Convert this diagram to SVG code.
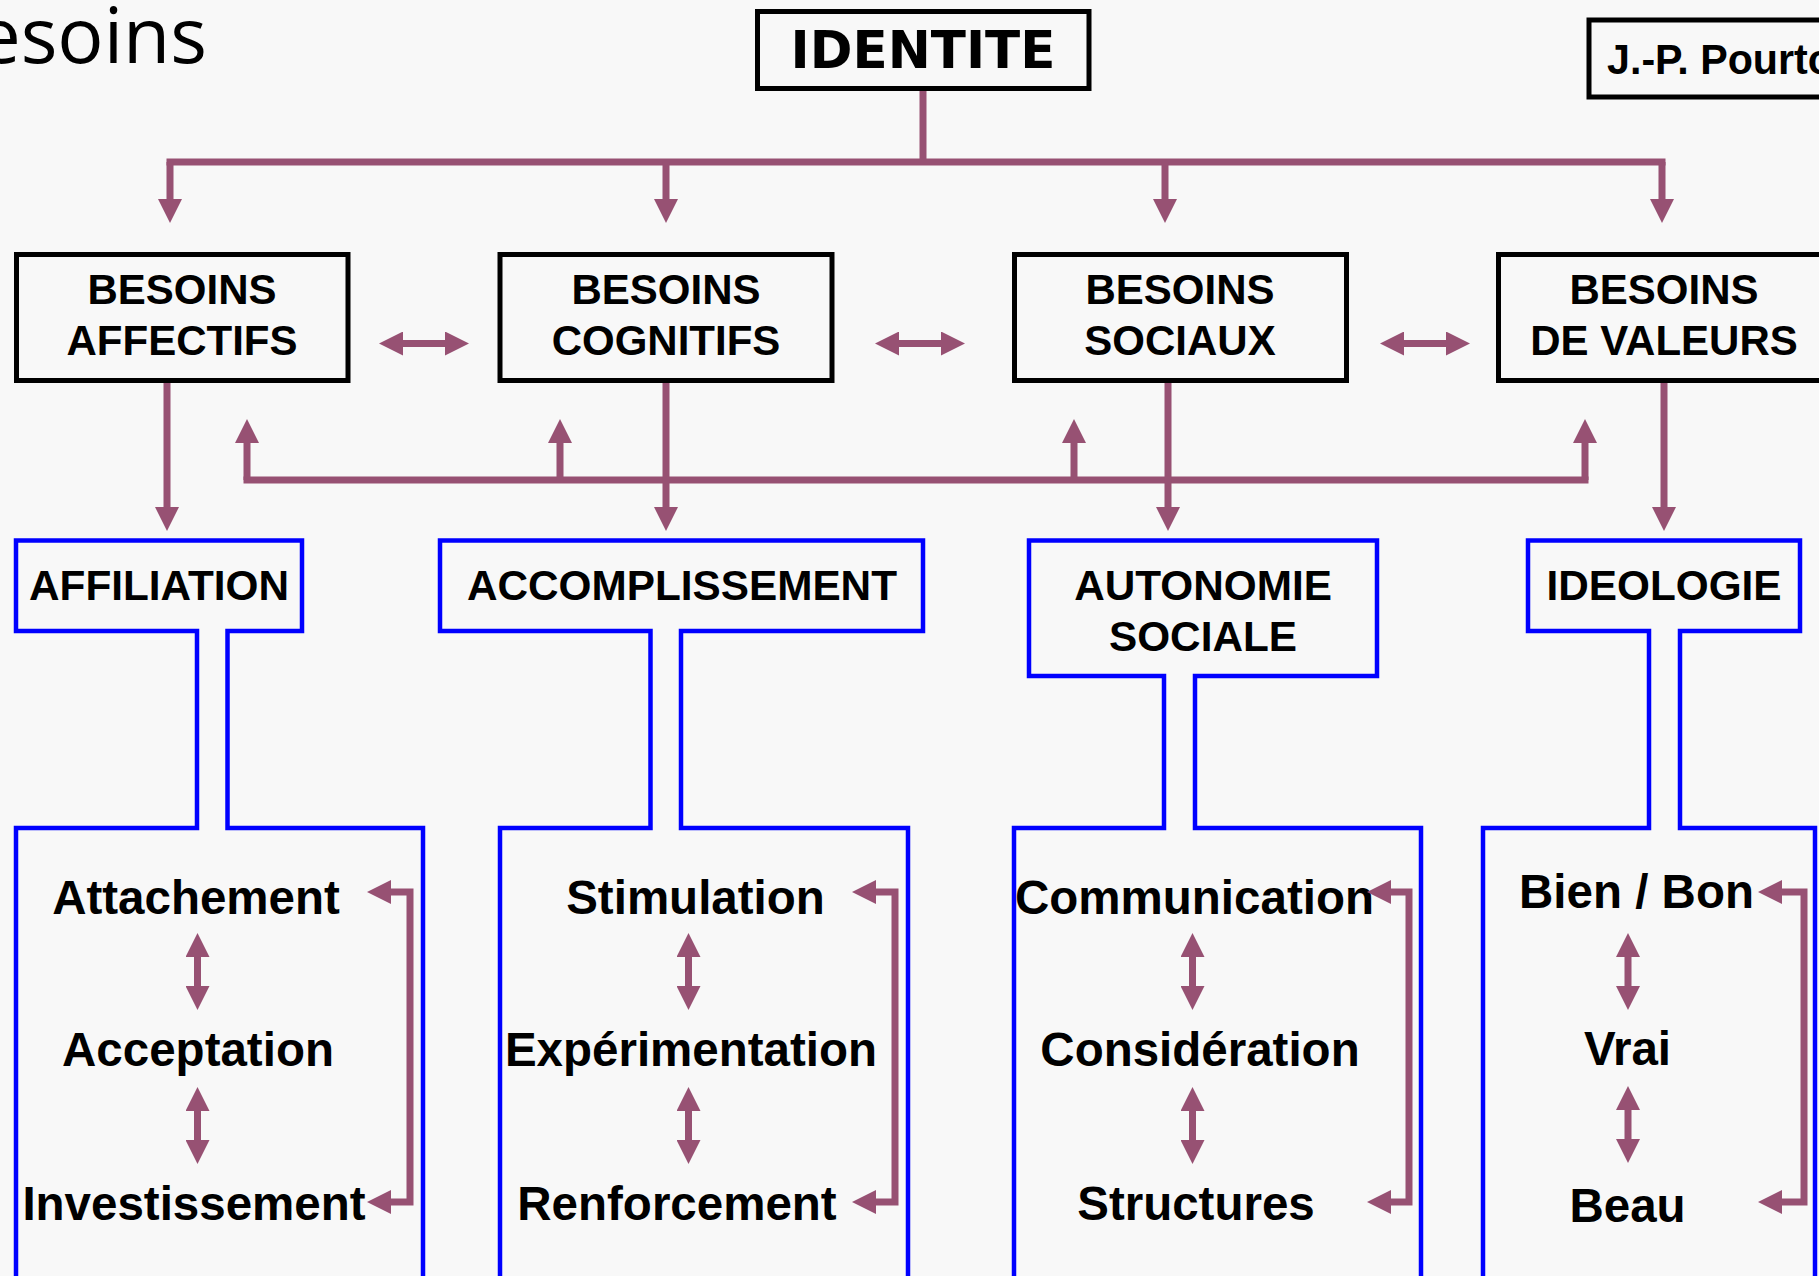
<svg xmlns="http://www.w3.org/2000/svg" width="1819" height="1276" viewBox="0 0 1819 1276">
<defs>
<style>
.bg{fill:#f8f8f8}
.bk{fill:none;stroke:#000;stroke-width:5}
.bl{fill:none;stroke:#0000ff;stroke-width:4.5;stroke-linejoin:miter}
.cn{fill:none;stroke:#975173;stroke-width:7}
.ar{marker-end:url(#ah)}
.da{marker-start:url(#ah);marker-end:url(#ah)}
.t2{font-family:"Liberation Sans",Arial,sans-serif;font-weight:bold;font-size:42px;text-anchor:middle;fill:#000}
.t3{font-family:"Liberation Sans",Arial,sans-serif;font-weight:bold;font-size:42.3px;text-anchor:middle;fill:#000}
.t4{font-family:"Liberation Sans",Arial,sans-serif;font-weight:bold;font-size:47.5px;text-anchor:middle;fill:#000}
</style>
<marker id="ah" markerUnits="userSpaceOnUse" markerWidth="24" markerHeight="24" refX="0" refY="12" orient="auto-start-reverse" viewBox="0 0 24 24">
<path d="M0,0 L24,12 L0,24 z" fill="#975173"/>
</marker>
</defs>
<rect class="bg" x="0" y="0" width="1819" height="1276"/>

<text x="207" y="63" font-family="'Open Sans','Noto Sans',sans-serif" font-size="77" text-anchor="end" fill="#000">esoins</text>

<g id="author">
<rect class="bk" x="1589" y="20" width="260" height="77" stroke-width="4"/>
<text x="1607" y="74" font-family="'Liberation Sans',Arial,sans-serif" font-weight="bold" font-size="43" textLength="226" lengthAdjust="spacingAndGlyphs" fill="#000">J.-P. Pourto</text>
</g>

<g id="identite">
<rect class="bk" x="757.5" y="11.5" width="331.5" height="77"/>
<text x="923" y="68" font-family="'DejaVu Sans',Verdana,sans-serif" font-weight="bold" font-size="51.5" text-anchor="middle" fill="#000">IDENTITE</text>
</g>

<g id="besoins-affectifs">
<rect class="bk" x="16.5" y="254.5" width="331.5" height="126"/>
<text class="t2" x="182" y="304">BESOINS</text>
<text class="t2" x="182" y="355">AFFECTIFS</text>
</g>
<g id="besoins-cognitifs">
<rect class="bk" x="500" y="254.5" width="332" height="126"/>
<text class="t2" x="666" y="304">BESOINS</text>
<text class="t2" x="666" y="355">COGNITIFS</text>
</g>
<g id="besoins-sociaux">
<rect class="bk" x="1014.5" y="254.5" width="332" height="126"/>
<text class="t2" x="1180" y="304">BESOINS</text>
<text class="t2" x="1180" y="355">SOCIAUX</text>
</g>
<g id="besoins-valeurs">
<rect class="bk" x="1498.5" y="254.5" width="332" height="126"/>
<text class="t2" x="1664" y="304">BESOINS</text>
<text class="t2" x="1664" y="355">DE VALEURS</text>
</g>

<g id="affiliation">
<path class="bl" d="M16,540.5 H302 V631 H227.5 V828 H423 V1290 H16 V828 H197 V631 H16 Z"/>
<text class="t3" x="159" y="600">AFFILIATION</text>
<text class="t4" x="196" y="914">Attachement</text>
<text class="t4" x="198" y="1066">Acceptation</text>
<text class="t4" x="194" y="1220">Investissement</text>
</g>
<g id="accomplissement">
<path class="bl" d="M440,540.5 H923 V631 H681 V828 H908 V1290 H500 V828 H650.5 V631 H440 Z"/>
<text class="t3" x="682" y="600">ACCOMPLISSEMENT</text>
<text class="t4" x="695.5" y="914">Stimulation</text>
<text class="t4" x="691" y="1066">Expérimentation</text>
<text class="t4" x="677" y="1220">Renforcement</text>
</g>
<g id="autonomie-sociale">
<path class="bl" d="M1029,540.5 H1377 V676 H1195 V828 H1421 V1290 H1014 V828 H1164 V676 H1029 Z"/>
<text class="t3" x="1203" y="600">AUTONOMIE</text>
<text class="t3" x="1203" y="651">SOCIALE</text>
<text class="t4" x="1194.5" y="914">Communication</text>
<text class="t4" x="1200" y="1066">Considération</text>
<text class="t4" x="1196" y="1220">Structures</text>
</g>
<g id="ideologie">
<path class="bl" d="M1528,540.5 H1800 V631 H1680 V828 H1815 V1290 H1483 V828 H1649 V631 H1528 Z"/>
<text class="t3" x="1664" y="600">IDEOLOGIE</text>
<text class="t4" x="1636.5" y="908">Bien / Bon</text>
<text class="t4" x="1627.5" y="1065">Vrai</text>
<text class="t4" x="1627.5" y="1222">Beau</text>
</g>

<g id="connectors">
<path class="cn" d="M923,91 V162 M166.5,162 H1665.5"/>
<path class="cn ar" d="M170,162 V199"/>
<path class="cn ar" d="M666,162 V199"/>
<path class="cn ar" d="M1165,162 V199"/>
<path class="cn ar" d="M1662,162 V199"/>

<path class="cn da" d="M403,343.5 H445"/>
<path class="cn da" d="M899,343.5 H941"/>
<path class="cn da" d="M1404,343.5 H1446"/>

<path class="cn" d="M243.5,480 H1588.5"/>
<path class="cn ar" d="M247,480 V443"/>
<path class="cn ar" d="M560,480 V443"/>
<path class="cn ar" d="M1074,480 V443"/>
<path class="cn ar" d="M1585,480 V443"/>

<path class="cn ar" d="M167,383 V507"/>
<path class="cn ar" d="M666,383 V507"/>
<path class="cn ar" d="M1168,383 V507"/>
<path class="cn ar" d="M1664,383 V507"/>

<path class="cn da" d="M197.5,957 V986"/>
<path class="cn da" d="M197.5,1111 V1140"/>
<path class="cn da" d="M688.5,957 V986"/>
<path class="cn da" d="M688.5,1111 V1140"/>
<path class="cn da" d="M1192.5,957 V986"/>
<path class="cn da" d="M1192.5,1111 V1140"/>
<path class="cn da" d="M1628,957 V986"/>
<path class="cn da" d="M1628,1110 V1139"/>

<path class="cn da" d="M391,892 H410 V1202 H391"/>
<path class="cn da" d="M876,892 H895 V1202 H876"/>
<path class="cn da" d="M1391,892 H1409 V1202 H1391"/>
<path class="cn da" d="M1782,892 H1804 V1202 H1782"/>
</g>
</svg>
